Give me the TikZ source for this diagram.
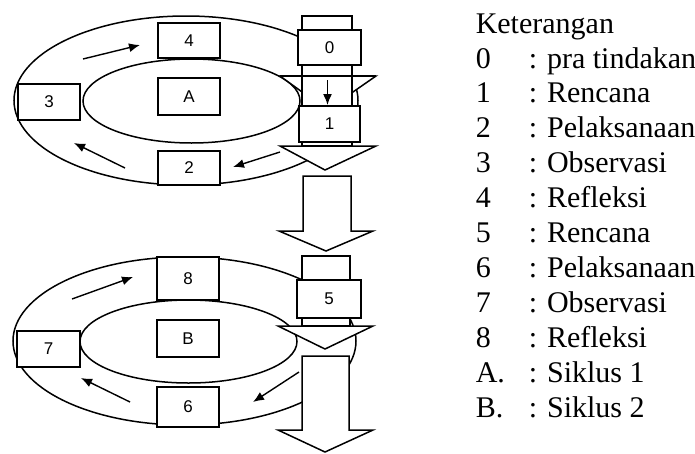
\documentclass[tikz,border=0pt]{standalone}
\usepackage{fontspec}
\setmainfont{Liberation Serif}
\newfontfamily\boxfont{Liberation Sans}
\usetikzlibrary{arrows.meta}
\begin{document}
\begin{tikzpicture}[x=1pt,y=-1pt, line width=1.5pt, line join=miter,
  lbox/.style={draw, fill=white, inner sep=0pt, font=\boxfont\fontsize{17}{17}\selectfont},
  blk/.style={draw, fill=white},
  cyc/.style={-{Latex[length=11pt,width=9pt]}, line width=1.4pt},
  leg/.style={anchor=base west, inner sep=0pt, font=\fontsize{30}{30}\selectfont}]
\useasboundingbox (0,0) rectangle (695,453);

% cycle rings
\draw (186,100.5) ellipse [x radius=172, y radius=84.5];
\draw (191.5,101) ellipse [x radius=108.5, y radius=42];
\draw (184.5,341) ellipse [x radius=171.5, y radius=84];
\draw (188.5,341.5) ellipse [x radius=108.5, y radius=41.5];

% block arrow through cycle 1
\draw[blk] (280,76) -- (376,76) -- (327,110) -- cycle;
\draw[blk] (302,16) rectangle (352,106);
\draw (280,76) -- (376,76);
\draw[blk] (302,106) rectangle (352,146);
\draw[blk] (280,146) -- (376,146) -- (325,170) -- cycle;

% block arrow between cycles
\draw[blk] (303,176) -- (351,176) -- (351,231) -- (373,231) -- (326,251) -- (279,231) -- (303,231) -- cycle;

% block arrow through cycle 2
\draw[blk] (302,256) rectangle (350,326);
\draw[blk] (278,326) -- (373,326) -- (325,349) -- cycle;
\draw[blk] (302,356) -- (349,356) -- (349,430) -- (373,430) -- (325,452) -- (278,430) -- (302,430) -- cycle;

% boxes cycle 1
\node[lbox, minimum width=62pt, minimum height=35pt] (b4) at (189,40.5) {4};
\node[lbox, minimum width=62pt, minimum height=37pt] (bA) at (189,96.5) {A};
\node[lbox, minimum width=62pt, minimum height=36pt] (b3) at (49,102) {3};
\node[lbox, minimum width=62pt, minimum height=34pt] (b2) at (189,168) {2};
\node[lbox, minimum width=63pt, minimum height=35pt] (b0) at (329.5,47.5) {0};
\node[lbox, minimum width=61pt, minimum height=36pt] (b1) at (329.5,124) {1};

% boxes cycle 2
\node[lbox, minimum width=62pt, minimum height=43pt] (b8) at (188,278.5) {8};
\node[lbox, minimum width=62pt, minimum height=37pt] (bB) at (188,338.5) {B};
\node[lbox, minimum width=63pt, minimum height=36pt] (b7) at (48.5,349) {7};
\node[lbox, minimum width=62pt, minimum height=40pt] (b6) at (188,407) {6};
\node[lbox, minimum width=64pt, minimum height=38pt] (b5) at (329,299) {5};

% small direction arrows
\coordinate (p1s) at (83,59);   \coordinate (p1e) at (140,45);
\coordinate (p2s) at (125,168); \coordinate (p2e) at (74,143);
\coordinate (p3s) at (280,152); \coordinate (p3e) at (233,167);
\coordinate (p0s) at (327.5,80); \coordinate (p0e) at (327.5,105);
\coordinate (q1s) at (72,299);  \coordinate (q1e) at (133,277);
\coordinate (q2s) at (130,402); \coordinate (q2e) at (81,378);
\coordinate (q3s) at (299,372); \coordinate (q3e) at (253,402);
\draw[cyc] (p1s) -- (p1e);
\draw[cyc] (p2s) -- (p2e);
\draw[cyc] (p3s) -- (p3e);
\draw[cyc] (p0s) -- (p0e);
\draw[cyc] (q1s) -- (q1e);
\draw[cyc] (q2s) -- (q2e);
\draw[cyc] (q3s) -- (q3e);

% legend
\node[leg] (ket) at (475,33) {Keterangan};
\foreach \k/\t [count=\i from 0] in {0/pra tindakan, 1/Rencana, 2/Pelaksanaan, 3/Observasi, 4/Refleksi, 5/Rencana, 6/Pelaksanaan, 7/Observasi, 8/Refleksi, A./Siklus 1, B./Siklus 2}{
  \node[leg] (k\i) at (475,{68+34.9*\i}) {\k};
  \node[leg] (t\i) at (528,{68+34.9*\i}) {: \t};
}
\end{tikzpicture}
\end{document}
